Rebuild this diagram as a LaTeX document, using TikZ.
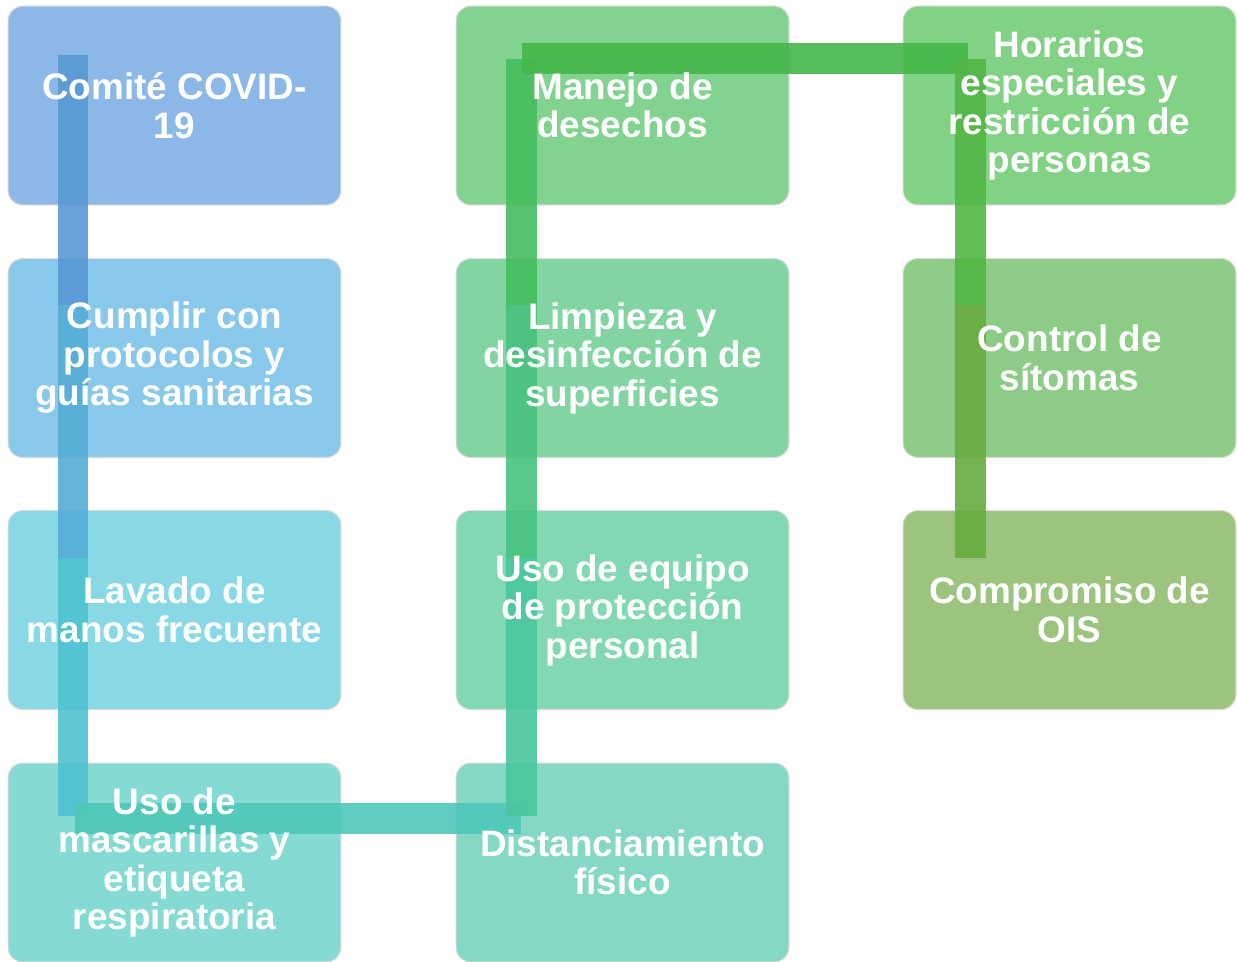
\documentclass[tikz,border=0pt]{standalone}
\usepackage{fontspec}
\setmainfont{Liberation Sans}
\definecolor{boxA}{HTML}{8CB8E8}
\definecolor{boxB}{HTML}{88C8EA}
\definecolor{boxC}{HTML}{88D8E6}
\definecolor{boxD}{HTML}{86DAD4}
\definecolor{boxE}{HTML}{82D290}
\definecolor{boxF}{HTML}{82D5A2}
\definecolor{boxG}{HTML}{82D8B2}
\definecolor{boxH}{HTML}{85D8C5}
\definecolor{boxI}{HTML}{82D286}
\definecolor{boxJ}{HTML}{8CCC87}
\definecolor{boxK}{HTML}{9CC47F}
\definecolor{barA}{HTML}{5898D4}
\definecolor{barB}{HTML}{54ADD6}
\definecolor{barC}{HTML}{4FC1D0}
\definecolor{barD}{HTML}{4EC8B8}
\definecolor{barE}{HTML}{4AC69E}
\definecolor{barF}{HTML}{48C27E}
\definecolor{barG}{HTML}{46BD5E}
\definecolor{barH}{HTML}{44B84A}
\definecolor{barI}{HTML}{52B644}
\definecolor{barJ}{HTML}{66AC3E}
\begin{document}
\begin{tikzpicture}[x=0.02cm, y=-0.02cm,
    box/.style={rectangle, rounded corners=0.3cm, minimum width=6.66cm,
      minimum height=3.98cm, draw=black!15, line width=0.6pt},
    boxtext/.style={align=center, text=white, inner sep=0pt,
      font=\bfseries\fontsize{21}{21.9}\selectfont},
    bar/.style={line width=0.62cm, opacity=0.9}]
    \useasboundingbox (0,0) rectangle (1237,961);
    \begin{scope}[every node/.style={box}]
      \node [fill=boxA] (c1) at (174.5,105.5) {};
      \node [fill=boxB] (c2) at (174.5,358) {};
      \node [fill=boxC] (c3) at (174.5,610) {};
      \node [fill=boxD] (c4) at (174.5,862.5) {};
      \node [fill=boxE] (d1) at (622.5,105.5) {};
      \node [fill=boxF] (d2) at (622.5,358) {};
      \node [fill=boxG] (d3) at (622.5,610) {};
      \node [fill=boxH] (d4) at (622.5,862.5) {};
      \node [fill=boxI] (e1) at (1069.5,105.5) {};
      \node [fill=boxJ] (e2) at (1069.5,358) {};
      \node [fill=boxK] (e3) at (1069.5,610) {};
    \end{scope}
    % bends of the snake line
    \coordinate (p1) at (73,55);
    \coordinate (p2) at (73,305);
    \coordinate (p3) at (73,558);
    \coordinate (p4) at (73,816);
    \coordinate (q1) at (75,818);
    \coordinate (q2) at (521,818);
    \coordinate (r1) at (521,816);
    \coordinate (r2) at (521,558);
    \coordinate (r3) at (521,305);
    \coordinate (r4) at (521,59);
    \coordinate (s1) at (522,58);
    \coordinate (s2) at (968,58);
    \coordinate (t1) at (970,59);
    \coordinate (t2) at (970,305);
    \coordinate (t3) at (970,558);
    \begin{scope}[bar]
      \draw [barA] (p1) -- (p2);
      \draw [barB] (p2) -- (p3);
      \draw [barC] (p3) -- (p4);
      \draw [barD] (q1) -- (q2);
      \draw [barE] (r1) -- (r2);
      \draw [barF] (r2) -- (r3);
      \draw [barG] (r3) -- (r4);
      \draw [barH] (s1) -- (s2);
      \draw [barI] (t1) -- (t2);
      \draw [barJ] (t2) -- (t3);
    \end{scope}
    \begin{scope}[every node/.style={boxtext}]
      \node (c1t) at (c1) {Comité COVID-\\19};
      \node (c2t) at (c2) {Cumplir con\\protocolos y\\guías sanitarias};
      \node (c3t) at (c3) {Lavado de\\manos frecuente};
      \node (c4t) at (c4) {Uso de\\mascarillas y\\etiqueta\\respiratoria};
      \node (d1t) at (d1) {Manejo de\\desechos};
      \node (d2t) at (d2) {Limpieza y\\desinfección de\\superficies};
      \node (d3t) at (d3) {Uso de equipo\\de protección\\personal};
      \node (d4t) at (d4) {Distanciamiento\\físico};
      \node (e1t) at (e1) {Horarios\\especiales y\\restricción de\\personas};
      \node (e2t) at (e2) {Control de\\sítomas};
      \node (e3t) at (e3) {Compromiso de\\OIS};
    \end{scope}
  \end{tikzpicture}
\end{document}
